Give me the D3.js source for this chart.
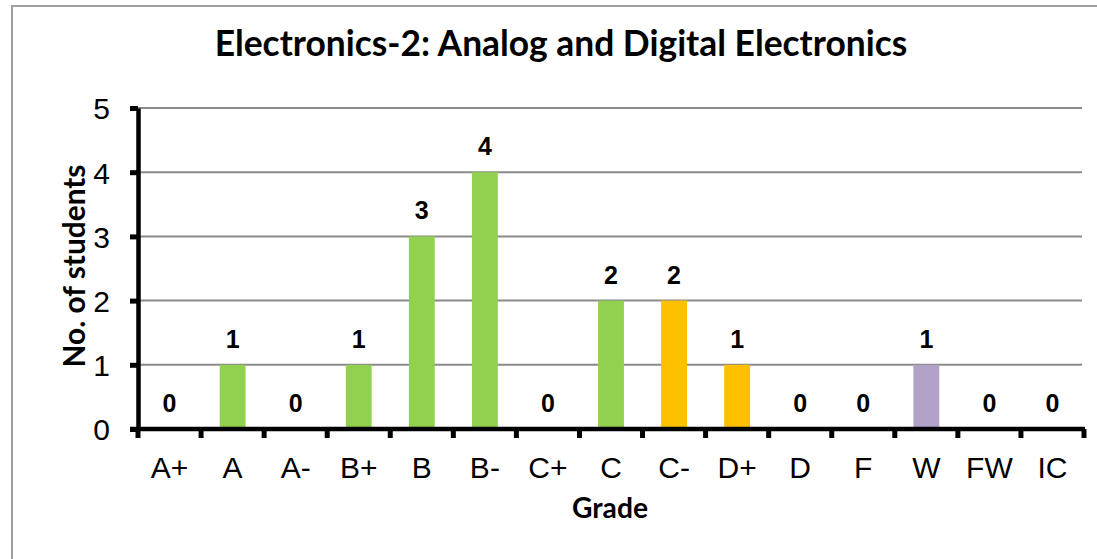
<!DOCTYPE html>
<html><head><meta charset="utf-8">
<script src="https://cdn.jsdelivr.net/npm/d3@7"></script>
<style>body{margin:0;background:#fff}svg{display:block}</style>
</head><body>
<script>
const grades = ["A+","A","A-","B+","B","B-","C+","C","C-","D+","D","F","W","FW","IC"];
const counts = [0,1,0,1,3,4,0,2,2,1,0,0,1,0,0];
const barColors = ["#92D050","#92D050","#92D050","#92D050","#92D050","#92D050","#92D050","#92D050","#FFC000","#FFC000","#FFC000","#FFC000","#B3A2C7","#B3A2C7","#B3A2C7"];
const yTicks = [0,1,2,3,4,5];
const titleText = "Electronics-2: Analog and Digital Electronics";
const xTitle = "Grade";
const yTitle = "No. of students";

(function(){
const W = 1097, H = 559;
const svg = d3.select("body").append("svg").attr("width", W).attr("height", H);

svg.append("rect").attr("x",12).attr("y",6).attr("width",W).attr("height",H)
  .attr("fill","none").attr("stroke","#a0a0a0").attr("stroke-width",2);

const pl = 138, pr = 1084, pt = 108, pb = 429;
const x = d3.scaleBand().domain(grades).range([pl, pr]).paddingInner(0).paddingOuter(0);
const y = d3.scaleLinear().domain([0,5]).range([pb, pt]);
const armo = "'Liberation Sans', Arial, sans-serif";

svg.append("g").selectAll("line").data(yTicks.filter(d=>d>0)).join("line")
  .attr("x1", pl).attr("x2", pr - 2)
  .attr("y1", d=>y(d)).attr("y2", d=>y(d))
  .attr("stroke","#8a8a8a").attr("stroke-width",2);

const bw = x.bandwidth()*0.41;
svg.append("g").selectAll("rect").data(grades).join("rect")
  .attr("x", (d)=> x(d) + (x.bandwidth()-bw)/2)
  .attr("width", bw)
  .attr("y", (d,i)=> y(counts[i]))
  .attr("height", (d,i)=> y(0)-y(counts[i]))
  .attr("fill", (d,i)=> barColors[i]);

svg.append("g").selectAll("text").data(grades).join("text")
  .attr("x", d=> x(d)+x.bandwidth()/2)
  .attr("y", (d,i)=> y(counts[i]) - 17)
  .attr("text-anchor","middle")
  .attr("font-family",armo)
  .attr("font-weight","bold").attr("font-size",25)
  .text((d,i)=> counts[i]);

const yAxis = d3.axisLeft(y).tickValues(yTicks).tickFormat(d3.format("d")).tickSize(8).tickPadding(20).tickSizeOuter(0);
const gy = svg.append("g").attr("transform",`translate(${pl},0)`).call(yAxis);
gy.select(".domain").attr("stroke","#000").attr("stroke-width",4.5);
gy.selectAll(".tick line").attr("stroke","#000").attr("stroke-width",5);
gy.selectAll(".tick text").attr("font-family",armo).attr("font-size",30).attr("fill","#000").attr("dy","0.36em");

const xAxis = d3.axisBottom(x).tickSize(0).tickSizeOuter(0);
const gx = svg.append("g").attr("transform",`translate(0,${pb})`).call(xAxis);
gx.select(".domain").attr("stroke","#000").attr("stroke-width",4.5).attr("d", `M${pl-8},0H${pr+1}`);
gx.selectAll(".tick text").attr("font-family",armo).attr("font-size",30).attr("fill","#000").attr("dy",null).attr("y",49);
const bounds = d3.range(grades.length+1).map(i => pl + i*x.step());
gx.append("g").selectAll("line").data(bounds).join("line")
  .attr("x1",d=>d).attr("x2",d=>d).attr("y1",0).attr("y2",9)
  .attr("stroke","#000").attr("stroke-width",5);

function fitText(sel, target, base){
  sel.attr("font-size", base);
  const len = sel.node().getComputedTextLength();
  sel.attr("font-size", base*target/len);
}
const calib = "Lato, 'Open Sans', sans-serif";
const t = svg.append("text").attr("x",561).attr("y",56).attr("text-anchor","middle")
  .attr("font-family",calib).attr("font-weight","bold").text(titleText);
fitText(t, 693, 30);

const gt = svg.append("text").attr("x",610).attr("y",518).attr("text-anchor","middle")
  .attr("font-family",calib).attr("font-weight","bold").text(xTitle);
fitText(gt, 76, 24);

const yt = svg.append("text").attr("transform","translate(85,266) rotate(-90)").attr("text-anchor","middle")
  .attr("font-family",calib).attr("font-weight","bold").text(yTitle);
fitText(yt, 203, 24);
})();
</script>
</body></html>
